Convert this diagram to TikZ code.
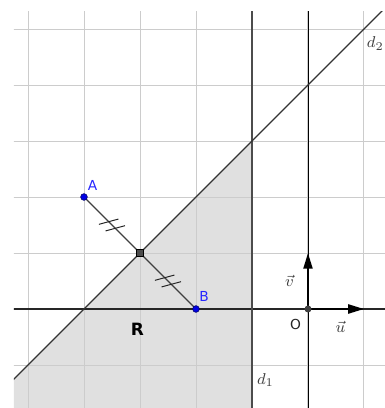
\documentclass[tikz,border=0pt]{standalone}
\usepackage{fontspec}
\newfontfamily\lab{DejaVu Sans}
\usetikzlibrary{arrows.meta,calc}
\begin{document}
\begin{tikzpicture}[x=1cm,y=1cm,
  gridline/.style={draw=black!20,line width=0.5pt},
  regionfill/.style={fill=black!12},
  axisline/.style={draw=black!85,line width=0.65pt},
  dline/.style={draw=black!70,line width=1.1pt},
  dtwo/.style={draw=black!80,line width=0.6pt},
  segline/.style={draw=black!75,line width=0.6pt},
  hashline/.style={draw=black!85,line width=0.5pt},
  vecline/.style={draw=black,line width=1pt,-{Triangle[length=8pt,width=4.6pt]}},
  bluept/.style={circle,fill=blue!90!black,draw=blue!40!black,line width=0.3pt,inner sep=0pt,minimum size=0.12cm},
  graypt/.style={circle,fill=black!75,inner sep=0pt,minimum size=0.125cm},
  sqpt/.style={rectangle,fill=black!70,draw=black,line width=0.3pt,inner sep=0pt,minimum size=0.115cm},
  ptlabel/.style={font=\lab\fontsize{7}{8}\selectfont,text=blue!85!white,inner sep=0pt},
  blklabel/.style={font=\lab\fontsize{7}{8}\selectfont,text=black!85,inner sep=0pt},
  mathlabel/.style={font=\fontsize{8}{9}\selectfont,text=black!75,inner sep=0pt}
]
\useasboundingbox (-5.5,-1.768) rectangle (1.375,5.518);
\begin{scope}
  \clip (-5.25,-1.768) rectangle (1.375,5.304);
  \fill[regionfill] (-1,3) -- (-1,-2) -- (-6,-2) -- cycle;
  \draw[gridline] (-6,-2) grid (2,6);
  % axes
  \coordinate (xl) at (-6,0);
  \coordinate (xr) at (2,0);
  \coordinate (yb) at (0,-2);
  \coordinate (yt) at (0,6);
  \draw[axisline] (xl) -- (xr);
  \draw[draw=black,line width=0.45pt] (yb) -- (yt);
  % d1
  \coordinate (d1b) at (-1,-2);
  \coordinate (d1t) at (-1,6);
  \draw[dline] (d1b) -- (d1t);
  % d2
  \coordinate (d2b) at (-6,-2);
  \coordinate (d2t) at (2,6);
  \draw[dtwo] (d2b) -- (d2t);
\end{scope}
% segment A-B
\coordinate (a) at (-4,2);
\coordinate (b) at (-2,0);
\coordinate (m) at (-3,1);
\draw[segline] (a) -- (b);
% hash marks
\coordinate (h1) at ($(a)!0.5!(m)$);
\coordinate (h2) at ($(m)!0.5!(b)$);
\foreach \h in {h1,h2}{
  \draw[hashline] ([shift={(-0.059,0.059)}]\h) ++(-0.174,-0.047) -- ++(0.348,0.094);
  \draw[hashline] ([shift={(0.059,-0.059)}]\h) ++(-0.174,-0.047) -- ++(0.348,0.094);
}
% vectors
\coordinate (o) at (0,0);
\coordinate (ue) at (1,0);
\coordinate (ve) at (0,1);
\draw[vecline] (o) -- (ue);
\draw[vecline] (o) -- (ve);
% points
\node[bluept] (A) at (a) {};
\node[bluept] (B) at (b) {};
\node[sqpt] (M) at (m) {};
\node[graypt] (O) at (o) {};
% labels
\node[ptlabel] (Alab) at (-3.848,2.214) {A};
\node[ptlabel] (Blab) at (-1.857,0.218) {B};
\node[blklabel] (Olab) at (-0.223,-0.268) {O};
\node[font=\lab\bfseries\fontsize{8.6}{10}\selectfont,inner sep=0pt] (Rlab) at (-3.045,-0.366) {R};
\node[mathlabel] (ulab) at (0.58,-0.31) {$\vec{u}$};
\node[mathlabel] (vlab) at (-0.33,0.50) {$\vec{v}$};
\node[mathlabel] (d1lab) at (-0.76,-1.27) {$d_1$};
\node[mathlabel,anchor=east] (d2lab) at (1.36,4.74) {$d_2$};
\end{tikzpicture}
\end{document}
